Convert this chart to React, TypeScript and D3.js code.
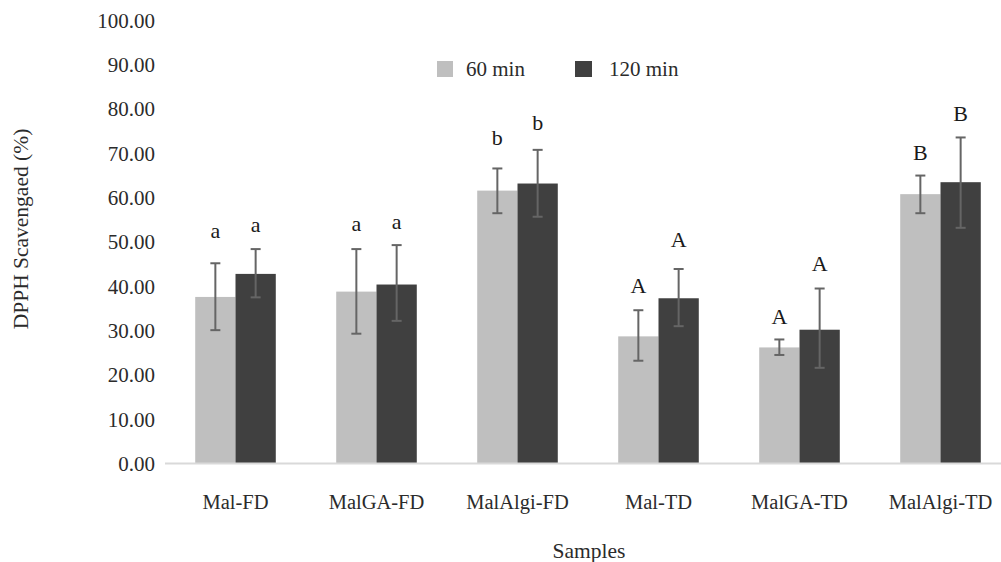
import React from "react";
import * as d3 from "d3";

const categories = ["Mal-FD", "MalGA-FD", "MalAlgi-FD", "Mal-TD", "MalGA-TD", "MalAlgi-TD"];
const seriesNames = ["60 min", "120 min"];
const values60 = [37.6, 38.8, 61.6, 28.7, 26.2, 60.8];
const values120 = [42.8, 40.4, 63.2, 37.3, 30.2, 63.5];
const errLow60 = [30.1, 29.3, 56.5, 23.2, 24.5, 56.5];
const errHigh60 = [45.2, 48.4, 66.6, 34.6, 28.0, 65.0];
const errLow120 = [37.5, 32.2, 55.7, 31.0, 21.6, 53.2];
const errHigh120 = [48.4, 49.3, 70.8, 43.9, 39.5, 73.6];
const letters60 = ["a", "a", "b", "A", "A", "B"];
const letters120 = ["a", "a", "b", "A", "A", "B"];
const letterPos60 = [50.9, 52.5, 71.9, 38.5, 31.6, 68.5];
const letterPos120 = [52.2, 52.9, 75.3, 48.9, 43.5, 77.3];
const yTicks = [0, 10, 20, 30, 40, 50, 60, 70, 80, 90, 100];

const colors = ["#bfbfbf", "#404040"];
const FONT = "'Liberation Serif', 'Times New Roman', serif";
const TXT = "#2b2b2b";

export default function App() {
  const W = 1001;
  const H = 562;
  const x0 = d3.scaleBand<string>().domain(categories).range([165, 1011]).padding(0);
  const x1 = d3.scaleBand<string>().domain(seriesNames).range([0, x0.bandwidth()]).paddingInner(0).paddingOuter(0.75);
  const y = d3.scaleLinear().domain([0, 100]).range([463.5, 20.5]);

  const series = [
    { name: seriesNames[0], vals: values60, lo: errLow60, hi: errHigh60, letters: letters60, lpos: letterPos60 },
    { name: seriesNames[1], vals: values120, lo: errLow120, hi: errHigh120, letters: letters120, lpos: letterPos120 },
  ];

  return (
    <svg width={W} height={H} style={{ position: "absolute", left: 0, top: 0, background: "#fff" }} fontFamily={FONT}>
      <rect width={W} height={H} fill="#fff" />
      {yTicks.map((t) => (
        <text key={t} x={155} y={y(t)} dy="0.35em" textAnchor="end" fontSize={21} fill={TXT}>
          {t.toFixed(2)}
        </text>
      ))}
      {series.map((s, si) =>
        categories.map((c, ci) => {
          const bx = (x0(c) as number) + (x1(s.name) as number);
          const bw = x1.bandwidth();
          return (
            <rect key={c + s.name} x={bx} y={y(s.vals[ci])} width={bw} height={y(0) - y(s.vals[ci])} fill={colors[si]} />
          );
        })
      )}
      <line x1={165} x2={W} y1={y(0)} y2={y(0)} stroke="#d9d9d9" strokeWidth={2} />
      {series.map((s, si) =>
        categories.map((c, ci) => {
          const bx = (x0(c) as number) + (x1(s.name) as number);
          const cx = bx + x1.bandwidth() / 2;
          return (
            <g key={"e" + c + s.name} stroke="#656565" strokeWidth={2}>
              <line x1={cx} x2={cx} y1={y(s.lo[ci])} y2={y(s.hi[ci])} />
              <line x1={cx - 5} x2={cx + 5} y1={y(s.lo[ci])} y2={y(s.lo[ci])} />
              <line x1={cx - 5} x2={cx + 5} y1={y(s.hi[ci])} y2={y(s.hi[ci])} />
              <text x={cx} y={y(s.lpos[ci])} textAnchor="middle" fontSize={22} fill="#1a1a1a" stroke="none">
                {s.letters[ci]}
              </text>
            </g>
          );
        })
      )}
      {categories.map((c) => (
        <text key={c} x={(x0(c) as number) + x0.bandwidth() / 2} y={509} textAnchor="middle" fontSize={20.5} fill={TXT}>
          {c}
        </text>
      ))}
      <text x={589} y={558} textAnchor="middle" fontSize={21.5} fill={TXT}>Samples</text>
      <text transform="translate(28,229) rotate(-90)" textAnchor="middle" fontSize={21.5} fill={TXT}>
        DPPH Scavengaed (%)
      </text>
      <g>
        <rect x={437} y={61} width={16} height={16} fill={colors[0]} />
        <text x={466} y={69} dy="0.35em" fontSize={21} fill={TXT}>{seriesNames[0]}</text>
        <rect x={575} y={61} width={17} height={16} fill={colors[1]} />
        <text x={609} y={69} dy="0.35em" fontSize={21} fill={TXT}>{seriesNames[1]}</text>
      </g>
    </svg>
  );
}
